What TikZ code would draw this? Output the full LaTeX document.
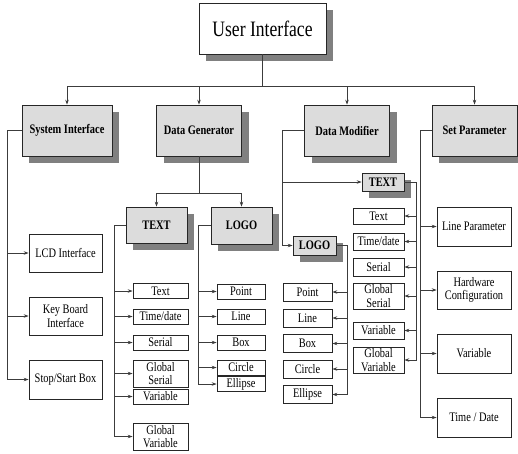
\documentclass[tikz,border=0pt]{standalone}
\usepackage{fontspec}
\setmainfont{Liberation Serif}[FakeStretch=0.8]
\usetikzlibrary{shadows, arrows.meta}
\definecolor{boxbg}{RGB}{220,220,220}
\definecolor{boxshadow}{RGB}{128,128,128}
\definecolor{linkgray}{RGB}{60,60,60}

\begin{document}
\begin{tikzpicture}[x=1pt, y=-1pt]
        \tikzstyle{shade} = [drop shadow={shadow xshift=7pt, shadow yshift=-7pt, fill=boxshadow, opacity=1}];
        \tikzstyle{topbox} = [rectangle, draw=black!85, fill=white, line width=0.7pt, shade, inner sep=0pt, font=\fontsize{22}{24}\selectfont];
        \tikzstyle{mainbox} = [rectangle, draw=black!85, fill=boxbg, line width=0.7pt, shade, inner sep=0pt, minimum width=85pt, minimum height=51pt, font=\bfseries\fontsize{13}{14}\selectfont];
        \tikzstyle{subbox} = [rectangle, draw=black!85, fill=boxbg, line width=0.7pt, shade, inner sep=0pt, font=\bfseries\fontsize{13}{14}\selectfont];
        \tikzstyle{leaf} = [rectangle, draw=black!85, fill=white, line width=0.7pt, inner sep=0pt, align=center, font=\fontsize{13}{13.5}\selectfont];
        \tikzstyle{link} = [draw=linkgray, line width=0.7pt, -{Stealth[length=5pt, width=3.5pt]}];

        \useasboundingbox (0,0) rectangle (518,453);

        % top
        \node(ui) [topbox, minimum width=127pt, minimum height=51pt] at (262.5,28.5) {User Interface};

        \node(sysif) [mainbox, minimum width=90pt] at (67,130.5) {System Interface};
        \node(datagen) [mainbox] at (199,130.5) {Data Generator};
        \node(datamod) [mainbox] at (347,130.5) {Data Modifier};
        \node(setpar) [mainbox] at (474.5,130.5) {Set Parameter};

        % system interface
        \node(lcd) [leaf, minimum width=73pt, minimum height=38pt] at (65.5,253) {LCD Interface};
        \node(keyb) [leaf, minimum width=73pt, minimum height=38pt] at (65.5,316) {Key Board\\Interface};
        \node(stopstart) [leaf, minimum width=73pt, minimum height=39pt] at (65.5,379.5) {Stop/Start Box};

        % data generator
        \node(gentext) [subbox, minimum width=61pt, minimum height=36pt] at (156.5,225) {TEXT};
        \node(genlogo) [subbox, minimum width=61pt, minimum height=37pt] at (241.5,225.5) {LOGO};

        \node(gtxt) [leaf, minimum width=55pt, minimum height=15pt] at (160.5,291) {Text};
        \node(gtime) [leaf, minimum width=55pt, minimum height=15pt] at (160.5,316.5) {Time/date};
        \node(gser) [leaf, minimum width=55pt, minimum height=15pt] at (160.5,342.5) {Serial};
        \node(ggser) [leaf, minimum width=55pt, minimum height=27pt] at (160.5,373.5) {Global\\Serial};
        \node(gvar) [leaf, minimum width=55pt, minimum height=15pt] at (160.5,396.5) {Variable};
        \node(ggvar) [leaf, minimum width=55pt, minimum height=27pt] at (160.5,436.5) {Global\\Variable};

        \node(gpoint) [leaf, minimum width=48pt, minimum height=15pt] at (241,291.5) {Point};
        \node(gline) [leaf, minimum width=48pt, minimum height=15pt] at (241,316.5) {Line};
        \node(gbox) [leaf, minimum width=48pt, minimum height=15pt] at (241,342.5) {Box};
        \node(gcircle) [leaf, minimum width=48pt, minimum height=15pt] at (241,367.5) {Circle};
        \node(gellipse) [leaf, minimum width=48pt, minimum height=15pt] at (241,384) {Ellipse};

        % data modifier
        \node(modtext) [subbox, minimum width=42pt, minimum height=18pt] at (383,182) {TEXT};
        \node(modlogo) [subbox, minimum width=43pt, minimum height=19pt] at (314.5,245.5) {LOGO};

        \node(mtxt) [leaf, minimum width=51pt, minimum height=16pt] at (378.5,216) {Text};
        \node(mtime) [leaf, minimum width=51pt, minimum height=17pt] at (378.5,241.5) {Time/date};
        \node(mser) [leaf, minimum width=51pt, minimum height=18pt] at (378.5,267) {Serial};
        \node(mgser) [leaf, minimum width=51pt, minimum height=26pt] at (378.5,296) {Global\\Serial};
        \node(mvar) [leaf, minimum width=51pt, minimum height=17pt] at (378.5,330.5) {Variable};
        \node(mgvar) [leaf, minimum width=51pt, minimum height=26pt] at (378.5,360) {Global\\Variable};

        \node(mpoint) [leaf, minimum width=49pt, minimum height=18pt] at (307.5,292) {Point};
        \node(mline) [leaf, minimum width=49pt, minimum height=18pt] at (307.5,318) {Line};
        \node(mbox) [leaf, minimum width=49pt, minimum height=18pt] at (307.5,343.5) {Box};
        \node(mcircle) [leaf, minimum width=49pt, minimum height=18pt] at (307.5,369) {Circle};
        \node(mellipse) [leaf, minimum width=49pt, minimum height=18pt] at (307.5,394.5) {Ellipse};

        % set parameter
        \node(plinepar) [leaf, minimum width=74pt, minimum height=39pt] at (474,226.5) {Line Parameter};
        \node(phw) [leaf, minimum width=74pt, minimum height=38pt] at (474,290) {Hardware\\Configuration};
        \node(pvar) [leaf, minimum width=74pt, minimum height=39pt] at (474,353.5) {Variable};
        \node(ptime) [leaf, minimum width=74pt, minimum height=39pt] at (474,417.5) {Time / Date};

        % connectors
        \coordinate (uibus) at (262.5,86);
        \draw[draw=linkgray, line width=0.7pt] (ui.south) -- (uibus);
        \draw[link] (uibus) -| (sysif.north);
        \draw[link] (uibus) -| (datagen.north);
        \draw[link] (uibus) -| (datamod.north);
        \draw[link] (uibus) -| (setpar.north);

        \draw[link] (sysif.west) -- ++(-14,0) coordinate (systrunk) |- (stopstart.west);
        \draw[link] (systrunk |- lcd.west) -- (lcd.west);
        \draw[link] (systrunk |- keyb.west) -- (keyb.west);

        \draw[draw=linkgray, line width=0.7pt] (datagen.south) -- ++(0,37) coordinate (genbus);
        \draw[link] (genbus) -| (gentext.north);
        \draw[link] (genbus) -| (genlogo.north);

        \draw[link] (gentext.west) -- ++(-11,0) coordinate (gtrunk) |- (ggvar.west);
        \draw[link] (gtrunk |- gtxt.west) -- (gtxt.west);
        \draw[link] (gtrunk |- gtime.west) -- (gtime.west);
        \draw[link] (gtrunk |- gser.west) -- (gser.west);
        \draw[link] (gtrunk |- ggser.west) -- (ggser.west);
        \draw[link] (gtrunk |- gvar.west) -- (gvar.west);

        \draw[link] (genlogo.west) -- ++(-12,0) coordinate (ltrunk) |- (gellipse.west);
        \draw[link] (ltrunk |- gpoint.west) -- (gpoint.west);
        \draw[link] (ltrunk |- gline.west) -- (gline.west);
        \draw[link] (ltrunk |- gbox.west) -- (gbox.west);
        \draw[link] (ltrunk |- gcircle.west) -- (gcircle.west);

        \draw[link] (datamod.west) -- ++(-22,0) coordinate (modtrunk) |- (modlogo.west);
        \draw[link] (modtrunk |- modtext.west) -- (modtext.west);

        \draw[link] (modtext.east) -- ++(12,0) coordinate (mtrunk) |- (mgvar.east);
        \draw[link] (mtrunk |- mtxt.east) -- (mtxt.east);
        \draw[link] (mtrunk |- mtime.east) -- (mtime.east);
        \draw[link] (mtrunk |- mser.east) -- (mser.east);
        \draw[link] (mtrunk |- mgser.east) -- (mgser.east);
        \draw[link] (mtrunk |- mvar.east) -- (mvar.east);

        \draw[link] (modlogo.east) -- ++(11,0) coordinate (mltrunk) |- (mellipse.east);
        \draw[link] (mltrunk |- mpoint.east) -- (mpoint.east);
        \draw[link] (mltrunk |- mline.east) -- (mline.east);
        \draw[link] (mltrunk |- mbox.east) -- (mbox.east);
        \draw[link] (mltrunk |- mcircle.east) -- (mcircle.east);

        \draw[link] (setpar.west) -- ++(-11,0) coordinate (ptrunk) |- (ptime.west);
        \draw[link] (ptrunk |- plinepar.west) -- (plinepar.west);
        \draw[link] (ptrunk |- phw.west) -- (phw.west);
        \draw[link] (ptrunk |- pvar.west) -- (pvar.west);

    \end{tikzpicture}
\end{document}
